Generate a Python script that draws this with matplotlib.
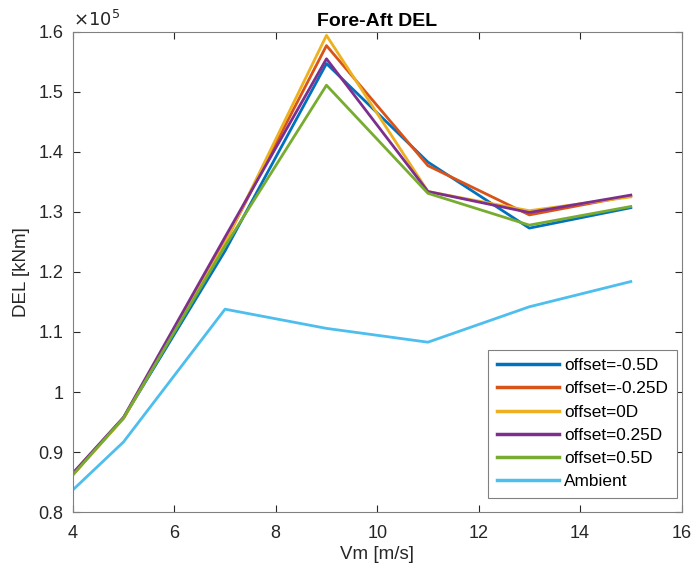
import numpy as np
import matplotlib.pyplot as plt

plt.rcParams['font.family'] = ['Liberation Sans', 'DejaVu Sans']

# wind speed
vm = [4, 5, 7, 9, 11, 13, 15]

# DEL values [kNm]
off_m05 = [0.863e5, 0.957e5, 1.235e5, 1.547e5, 1.383e5, 1.273e5, 1.307e5]
off_m025 = [0.864e5, 0.957e5, 1.250e5, 1.577e5, 1.377e5, 1.295e5, 1.327e5]
off_0 = [0.862e5, 0.956e5, 1.248e5, 1.594e5, 1.334e5, 1.302e5, 1.325e5]
off_025 = [0.865e5, 0.958e5, 1.258e5, 1.555e5, 1.334e5, 1.299e5, 1.328e5]
off_05 = [0.862e5, 0.957e5, 1.243e5, 1.511e5, 1.331e5, 1.278e5, 1.309e5]
ambient = [0.837e5, 0.917e5, 1.138e5, 1.106e5, 1.083e5, 1.142e5, 1.184e5]

series = [off_m05, off_m025, off_0, off_025, off_05, ambient]
labels = ['offset=-0.5D', 'offset=-0.25D', 'offset=0D', 'offset=0.25D',
          'offset=0.5D', 'Ambient']
colors = ['#0072BD', '#D95319', '#EDB120', '#7E2F8E', '#77AC30', '#4DBEEE']

yticks = [0.8, 0.9, 1.0, 1.1, 1.2, 1.3, 1.4, 1.5, 1.6]
ytick_labels = ['0.8', '0.9', '1', '1.1', '1.2', '1.3', '1.4', '1.5', '1.6']

fig = plt.figure(figsize=(6.94, 5.78), dpi=100)
ax = fig.add_axes([0.105, 0.114, 0.877, 0.831])

for y, lab, c in zip(series, labels, colors):
    ax.plot(vm, y, color=c, lw=2, label=lab)

ax.set_xlim(4, 16)
ax.set_ylim(0.8e5, 1.6e5)
ax.set_xticks([4, 6, 8, 10, 12, 14, 16])
ax.set_yticks([v * 1e5 for v in yticks])
ax.set_yticklabels(ytick_labels)

gray = '#262626'
for s in ax.spines.values():
    s.set_color('#808080')
    s.set_linewidth(0.8)
ax.tick_params(direction='in', top=True, right=True, length=5,
               labelsize=13, colors=gray, width=0.8)
ax.tick_params(axis='x', pad=9)
ax.tick_params(axis='y', pad=7)
ax.text(0.0, 1.004, r'$\times10^5$', transform=ax.transAxes,
        fontsize=13, color=gray, ha='left', va='bottom')

ax.set_xlabel('Vm [m/s]', fontsize=13.5, color=gray, labelpad=3)
ax.set_ylabel('DEL [kNm]', fontsize=13.5, color=gray, labelpad=6)
ax.set_title('Fore-Aft DEL', fontsize=14, fontweight='bold', pad=4)

leg = ax.legend(loc='lower right', bbox_to_anchor=(0.992, 0.03),
                fontsize=12.4, handlelength=3.6,
                fancybox=False, framealpha=1, edgecolor='#808080',
                borderaxespad=0, labelspacing=0.47, handletextpad=0.3,
                borderpad=0.5)
leg.get_frame().set_linewidth(0.8)
for line in leg.get_lines():
    line.set_linewidth(2.5)

plt.savefig('out.png', dpi=100)
